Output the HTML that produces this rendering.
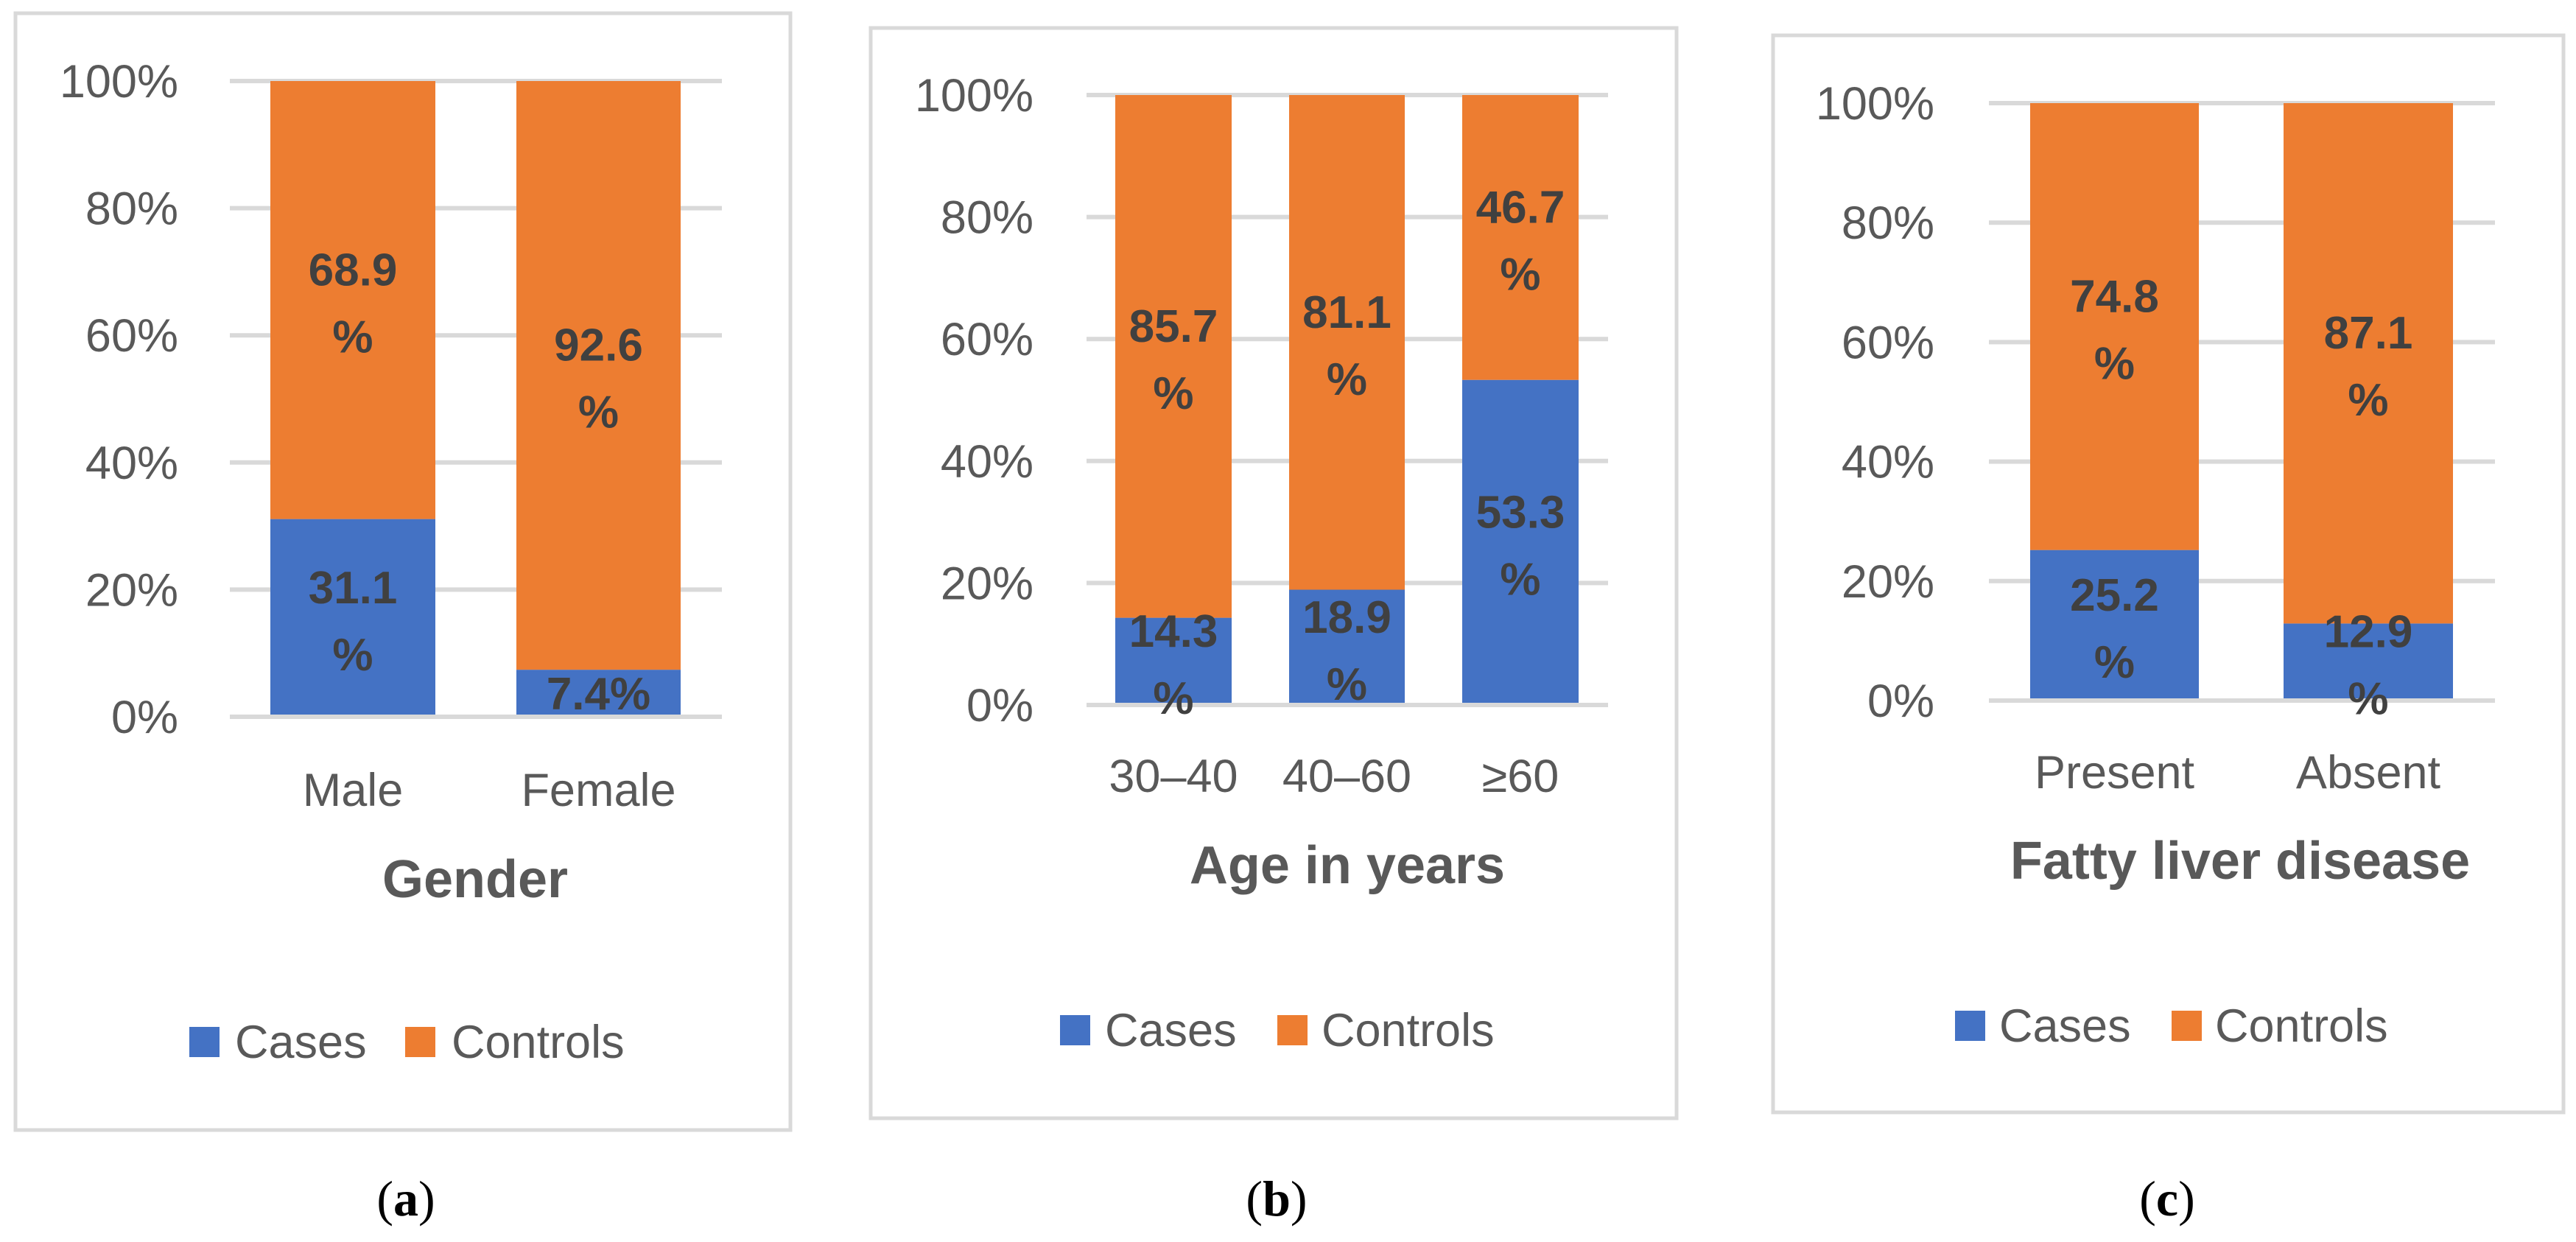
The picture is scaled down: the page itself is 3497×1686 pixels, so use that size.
<!DOCTYPE html>
<html><head><meta charset="utf-8"><style>
html,body{margin:0;padding:0;background:#fff;}
svg{display:block;}
text{font-family:"Liberation Sans",sans-serif;}
</style></head><body>
<svg id="fig" width="3497" height="1686" viewBox="0 0 3497 1686" xmlns="http://www.w3.org/2000/svg"></svg>
<script>
// Panel (a) Gender
const genderCategories = ["Male", "Female"];
const genderCases = [31.1, 7.4];
const genderControls = [68.9, 92.6];
// Panel (b) Age
const ageCategories = ["30–40", "40–60", "≥60"];
const ageCases = [14.3, 18.9, 53.3];
const ageControls = [85.7, 81.1, 46.7];
// Panel (c) Fatty liver
const liverCategories = ["Present", "Absent"];
const liverCases = [25.2, 12.9];
const liverControls = [74.8, 87.1];
// Shared axis ticks
const yTickValues = [0, 20, 40, 60, 80, 100];
const yTickLabels = ["0%", "20%", "40%", "60%", "80%", "100%"];

const NS = "http://www.w3.org/2000/svg";
const svg = document.getElementById("fig");
function mk(tag, attrs, parent) {
  const e = document.createElementNS(NS, tag);
  for (const k in attrs) e.setAttribute(k, attrs[k]);
  (parent || svg).appendChild(e);
  return e;
}

const panels = [
  {id:"a", cats:genderCategories, cases:genderCases, ctrls:genderControls, title:"Gender", caption:"a",
   box:[21,18,1073,1534], gx:[312,980], y100:110, y0:973, bars:[[367,591],[701,924]], tickR:242,
   catY:1094, titleX:645, titleY:1218, leg:{y:1414, c1:257, t1:319, c2:550, t2:613}, capX:551},
  {id:"b", cats:ageCategories, cases:ageCases, ctrls:ageControls, title:"Age in years", caption:"b",
   box:[1182,38,2276,1518], gx:[1475,2183], y100:129, y0:957, bars:[[1514,1672],[1750,1907],[1985,2143]], tickR:1403,
   catY:1075, titleX:1829, titleY:1199, leg:{y:1398, c1:1439, t1:1500, c2:1734, t2:1794}, capX:1733},
  {id:"c", cats:liverCategories, cases:liverCases, ctrls:liverControls, title:"Fatty liver disease", caption:"c",
   box:[2407,48,3480,1510], gx:[2700,3387], y100:140, y0:951, bars:[[2756,2985],[3100,3330]], tickR:2626,
   catY:1070, titleX:3041, titleY:1193, leg:{y:1392, c1:2654, t1:2714, c2:2948, t2:3007}, capX:2942}
];

function drawLabel(g, value, cx, mid) {
  const s = value.toFixed(1);
  if (value < 10) {
    const t = mk("text", {x:cx, y:mid+22, "text-anchor":"middle", "font-size":62, "font-weight":"bold", fill:"#404040"}, g);
    t.textContent = s + "%";
    
    
  } else {
    const t1 = mk("text", {x:cx, y:mid-20, "text-anchor":"middle", "font-size":62, "font-weight":"bold", fill:"#404040"}, g);
    t1.textContent = s;
    
    
    const t2 = mk("text", {x:cx, y:mid+71, "text-anchor":"middle", "font-size":62, "font-weight":"bold", fill:"#404040"}, g);
    t2.textContent = "%";
    
    
  }
}

panels.forEach(p => {
  const g = mk("g", {});
  
  
  const yScale = v => p.y0 - (v / 100) * (p.y0 - p.y100);
  const frame = mk("rect", {x:p.box[0], y:p.box[1], width:p.box[2]-p.box[0], height:p.box[3]-p.box[1], fill:"#fff", stroke:"#d9d9d9", "stroke-width":5}, g);
  
  
  yTickValues.forEach((v, i) => {
    const y = yScale(v);
    const ln = mk("line", {x1:p.gx[0], x2:p.gx[1], y1:y, y2:y, stroke:"#d9d9d9", "stroke-width":6}, g);
    
    
    const t = mk("text", {x:p.tickR, y:y+22, "text-anchor":"end", "font-size":63, fill:"#595959"}, g);
    t.textContent = yTickLabels[i];
    
    
  });
  p.cats.forEach((c, i) => {
    const [x0, x1] = p.bars[i];
    const cx = (x0 + x1) / 2;
    const yC = yScale(p.cases[i]);
    const yT = yScale(p.cases[i] + p.ctrls[i]);
    const r1 = mk("rect", {x:x0, y:yC, width:x1-x0, height:p.y0-3-yC, fill:"#4472c4"}, g);
    
    
    const r2 = mk("rect", {x:x0, y:yT, width:x1-x0, height:yC-yT, fill:"#ed7d31"}, g);
    
    
    drawLabel(g, p.cases[i], cx, (p.y0 + yC) / 2);
    drawLabel(g, p.ctrls[i], cx, (yC + yT) / 2);
    const ct = mk("text", {x:cx, y:p.catY, "text-anchor":"middle", "font-size":63, fill:"#595959"}, g);
    ct.textContent = c;
    
    
  });
  const tt = mk("text", {x:p.titleX, y:p.titleY, "text-anchor":"middle", "font-size":72, "font-weight":"bold", fill:"#595959"}, g);
  tt.textContent = p.title;
  
  
  const L = p.leg;
  const s1 = mk("rect", {x:L.c1, y:L.y-20, width:41, height:41, fill:"#4472c4"}, g);
  
  
  const l1 = mk("text", {x:L.t1, y:L.y+22, "font-size":63, fill:"#595959"}, g);
  l1.textContent = "Cases";
  
  
  const s2 = mk("rect", {x:L.c2, y:L.y-20, width:41, height:41, fill:"#ed7d31"}, g);
  
  
  const l2 = mk("text", {x:L.t2, y:L.y+22, "font-size":63, fill:"#595959"}, g);
  l2.textContent = "Controls";
  
  
  const cap = mk("text", {x:p.capX, y:1650, "text-anchor":"middle", "font-size":68, fill:"#000", "font-family":"Liberation Serif, serif"}, g);
  
  
  cap.style.fontFamily = '"Liberation Serif", serif';
  const a = document.createElementNS(NS, "tspan"); a.textContent = "(";
  const b = document.createElementNS(NS, "tspan"); b.textContent = p.caption; b.setAttribute("font-weight","bold");
  const c2 = document.createElementNS(NS, "tspan"); c2.textContent = ")";
  cap.appendChild(a); cap.appendChild(b); cap.appendChild(c2);
});
</script>
</body></html>
